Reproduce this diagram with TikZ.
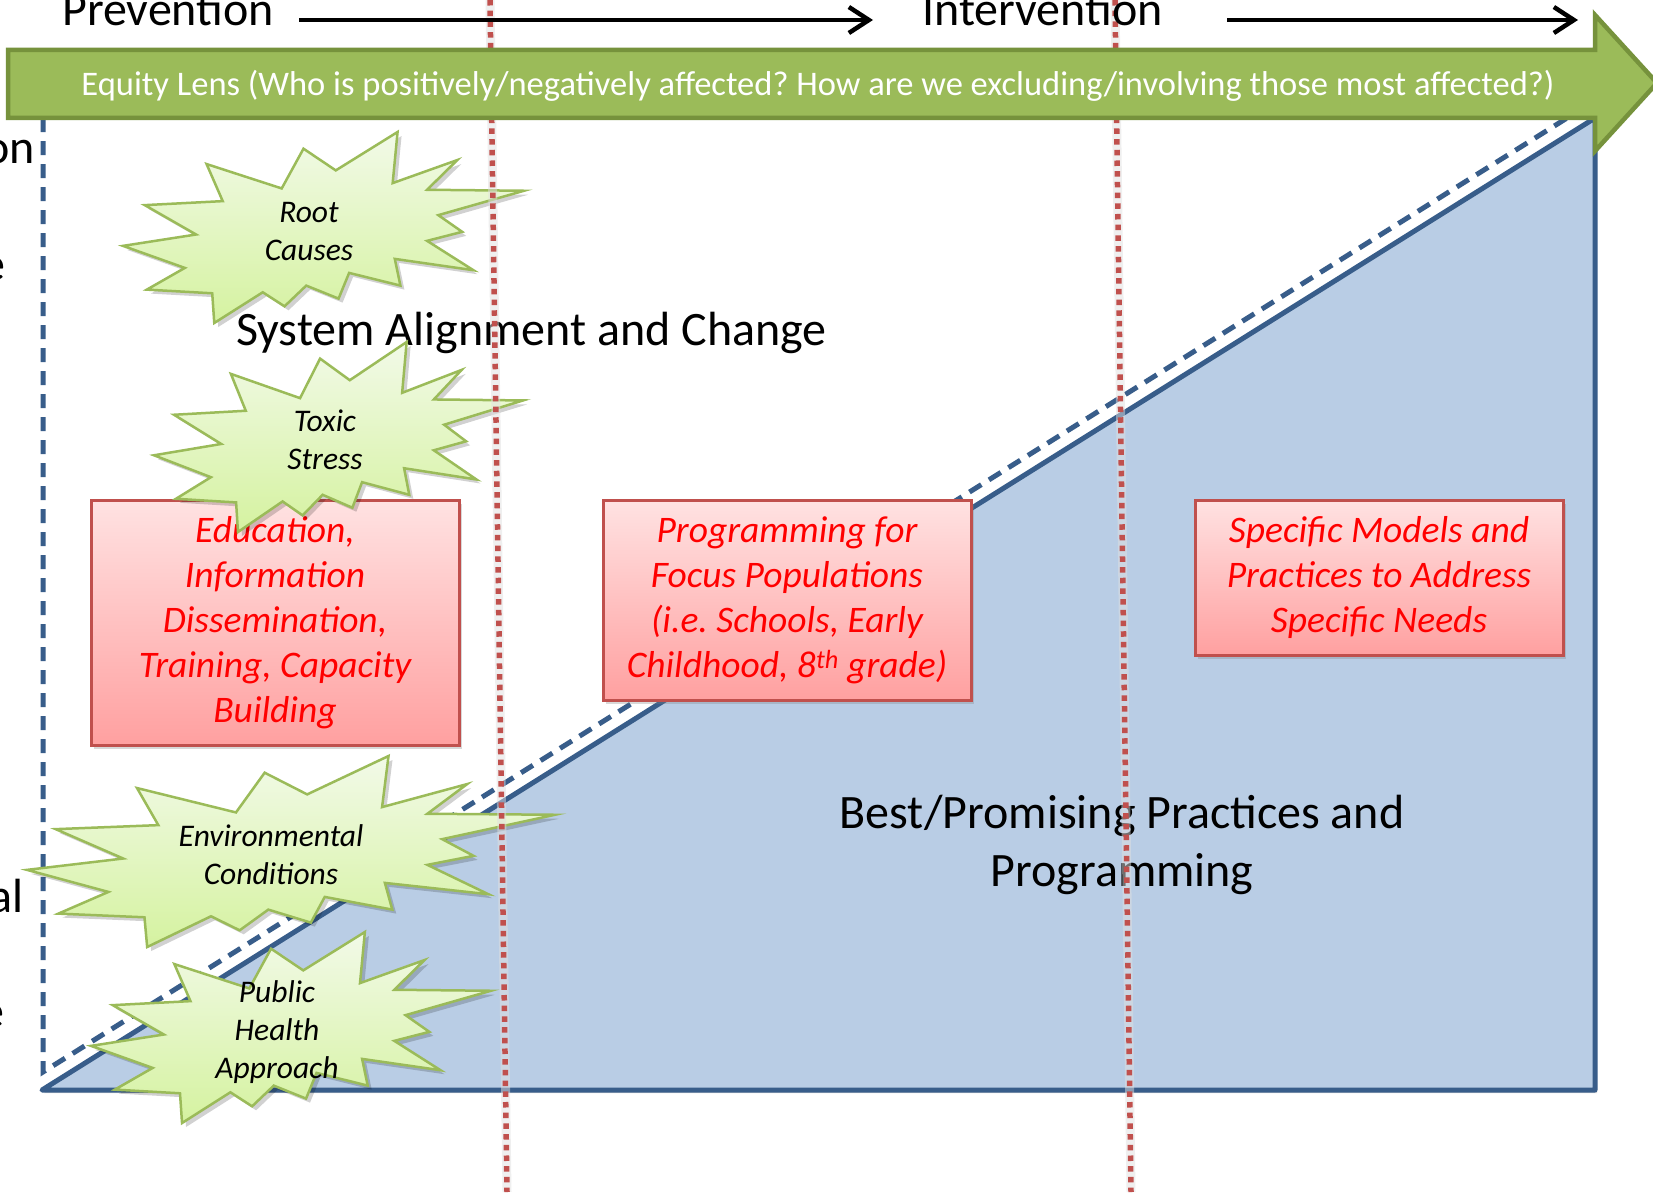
\documentclass[tikz,border=0pt]{standalone}
\usepackage{fontspec}
\setmainfont{Carlito}
\frenchspacing
\usetikzlibrary{arrows.meta,shadows}
\definecolor{bandfill}{HTML}{9BBB59}
\definecolor{bandline}{HTML}{76923C}
\definecolor{trifill}{HTML}{B9CDE5}
\definecolor{triline}{HTML}{385D8A}
\definecolor{dotred}{HTML}{C0504D}
\definecolor{boxline}{HTML}{C0504D}
\definecolor{pinktop}{HTML}{FFE2E2}
\definecolor{pinkbot}{HTML}{FFA0A0}
\definecolor{startop}{HTML}{F2FAE8}
\definecolor{starbot}{HTML}{D5F2A0}
\definecolor{starline}{HTML}{9BBB59}
\tikzset{
  burstpts/.style={insert path={(0.5306,0.2010) -- (0.6847,0) -- (0.6725,0.2675) -- (0.8337,0.1469) -- (0.7583,0.3024) -- (1,0.3076) -- (0.7863,0.4353) -- (0.8458,0.5227) -- (0.7583,0.5699) -- (0.8739,0.7237) -- (0.6778,0.6644) -- (0.6918,0.8042) -- (0.5639,0.7377) -- (0.5376,0.8723) -- (0.4570,0.8042) -- (0.4028,0.9126) -- (0.3485,0.8391) -- (0.2276,1) -- (0.2225,0.8444) -- (0.0595,0.8252) -- (0.1542,0.7116) -- (0,0.5962) -- (0.1822,0.5367) -- (0.0543,0.3829) -- (0.2487,0.3619) -- (0.2084,0.1678) -- (0.3958,0.2955) -- (0.4501,0.0874) -- cycle}},
  burststyle/.style={draw=starline, line width=2.5pt, line join=miter, top color=startop, bottom color=starbot},
  burstshadow/.style={fill=black, opacity=0.18},
  bigtext/.style={font=\fontsize{48}{58}\selectfont, inner sep=0pt},
  startext/.style={font=\fontsize{31.5}{38}\selectfont\itshape, align=center, inner sep=0pt},
  rbox/.style={draw=boxline, line width=3pt, top color=pinktop, bottom color=pinkbot, text=red,
     font=\fontsize{37.5}{45}\selectfont\itshape, align=center, inner sep=0pt,
     drop shadow={opacity=0.3, shadow xshift=3pt, shadow yshift=-4pt}},
  bandtext/.style={font=\fontsize{34.5}{40}\selectfont, text=white, inner sep=0pt, anchor=base},
  blackarrow/.style={draw=black, line width=4.5pt, -{Straight Barb[length=20pt,width=26pt,line width=4.5pt]}},
  reddot/.style={draw=dotred, line width=5.5pt, dash pattern=on 5.5pt off 5.2pt},
  redhalo/.style={draw=black!12, line width=9pt},
  bluedash/.style={draw=triline, line width=5pt, dash pattern=on 14pt off 9pt},
  tri/.style={draw=triline, fill=trifill, line width=5pt, line join=round},
  band/.style={draw=bandline, fill=bandfill, line width=4.5pt, line join=miter}
}
\newcommand\burst[4]{%
  \begin{scope}[shift={(#1+4,#2+4)}, x=#3pt, y=-#4pt]
    \path[burstshadow, burstpts];
  \end{scope}
  \begin{scope}[shift={(#1,#2)}, x=#3pt, y=-#4pt]
    \path[burststyle, burstpts];
  \end{scope}}
\begin{document}
\begin{tikzpicture}[x=1pt,y=-1pt]
\useasboundingbox (0,0) rectangle (1653,1196);
\fill[white] (0,0) rectangle (1653,1196);

% cut-off words at the left edge
\node[bigtext, anchor=base east] (fragA) at (35,163) {on};
\node[bigtext, anchor=base east] (fragB) at (6,280) {e};
\node[bigtext, anchor=base east] (fragC) at (24,912) {al};
\node[bigtext, anchor=base east] (fragD) at (5,1027) {e};

% dashed outline
\coordinate (dtop) at (43,118);
\coordinate (dcorner) at (43,1072);
\coordinate (dend) at (1567,118);
\draw[bluedash] (dtop) -- (dcorner) -- (dend);

% filled triangle
\coordinate (tl) at (42,1090);
\coordinate (tr) at (1595,118);
\coordinate (br) at (1595,1090);
\fill[black,opacity=0.15] ([shift={(2pt,-3pt)}]tl) -- ([shift={(2pt,-3pt)}]tr) -- ([shift={(2pt,-3pt)}]br) -- cycle;
\draw[tri] (tl) -- (tr) -- (br) -- cycle;

% labels
\node[bigtext, anchor=base west] (sys) at (236,345) {System Alignment and Change};
\node[bigtext, align=center] (best) at (1122,845) {Best/Promising Practices and\\Programming};

% red boxes
\node[rbox, minimum width=368pt, minimum height=245pt] (edu) at (275,622.5)
  {Education,\\Information\\Dissemination,\\Training, Capacity\\Building};
\node[rbox, minimum width=368pt, minimum height=200pt] (prog) at (787,600)
  {Programming for\\Focus Populations\\(i.e. Schools, Early\\Childhood, 8\textsuperscript{th} grade)};
\node[rbox, minimum width=368pt, minimum height=155pt] (spec) at (1379,577.5)
  {Specific Models and\\Practices to Address\\Specific Needs};

% explosions
\burst{123}{132}{401}{191}
\node[startext] (root) at (309,232) {Root\\Causes};
\burst{154}{342}{369}{190}
\node[startext] (toxic) at (325,440) {Toxic\\Stress};
\burst{27}{756}{528}{191}
\node[startext] (env) at (271,855) {Environmental\\Conditions};
\burst{91}{932}{400}{191}
\node[startext] (pub) at (277,1032) {Public\\Health\\Approach};

% red dotted dividers
\coordinate (r1t) at (490,0);
\coordinate (r1b) at (507,1192);
\coordinate (r2t) at (1115,0);
\coordinate (r2b) at (1131,1192);
\draw[redhalo, opacity=0.5] (r1t) -- (r1b);
\draw[redhalo, opacity=0.5] (r2t) -- (r2b);
\draw[reddot] (r1t) -- (r1b);
\draw[reddot] (r2t) -- (r2b);

% equity lens arrow
\draw[band] (8,50) -- (1595,50) -- (1595,15) -- (1657,83) -- (1595,151) -- (1595,118) -- (8,118) -- cycle;
\node[bandtext] (eq) at (818,96) {Equity Lens (Who is positively/negatively affected? How are we excluding/involving those most affected?)};

% top labels and arrows
\node[bigtext, anchor=base west] (prev) at (62,26) {Prevention};
\node[bigtext, anchor=base west] (inter) at (922,26) {Intervention};
\coordinate (a1s) at (299,20);
\coordinate (a1e) at (873,20);
\coordinate (a2s) at (1227,20);
\coordinate (a2e) at (1578,20);
\draw[blackarrow] (a1s) -- (a1e);
\draw[blackarrow] (a2s) -- (a2e);
\end{tikzpicture}
\end{document}
